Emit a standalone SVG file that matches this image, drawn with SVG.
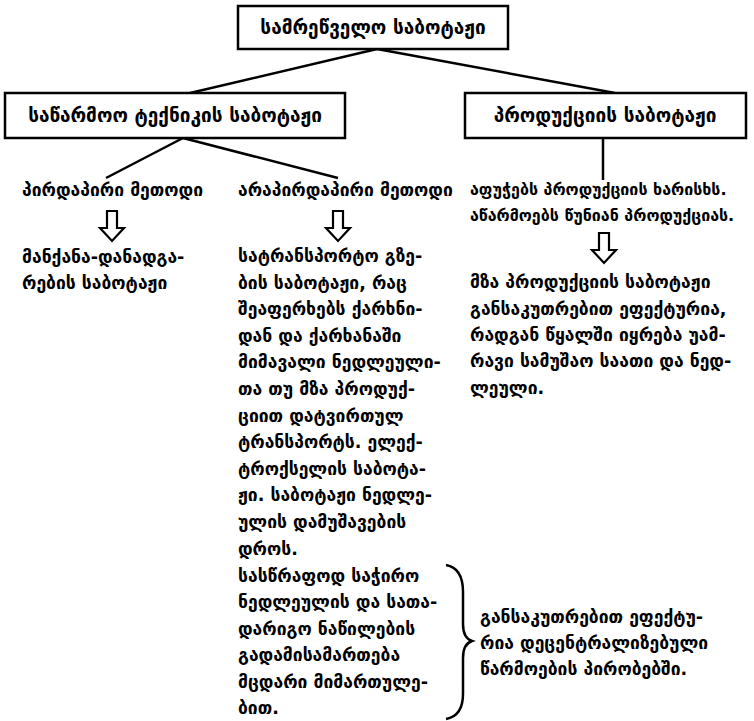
<svg xmlns="http://www.w3.org/2000/svg" width="754" height="721" viewBox="0 0 754 721">
<style>
.box{fill:#fff;stroke:#000;stroke-width:2.5}
.t{font-family:"DejaVu Sans","Noto Sans",sans-serif;font-weight:bold;font-size:17.5px;fill:#000}
.ts{font-family:"DejaVu Sans","Noto Sans",sans-serif;font-weight:bold;font-size:16px;fill:#000}
.bt{font-family:"DejaVu Sans","Noto Sans",sans-serif;font-weight:bold;font-size:19px;fill:#000}
.ln{stroke:#000;stroke-width:2.5;fill:none}
.ar{fill:#fff;stroke:#000;stroke-width:2.2;stroke-linejoin:miter}
</style>
<defs>
<path id="harrow" d="M-5,0 L5,0 L5,17 L12,17 L0,30 L-12,17 L-5,17 Z"/>
</defs>
<g id="connectors">
<line class="ln" x1="377" y1="49" x2="190" y2="93"/>
<line class="ln" x1="377" y1="49" x2="615" y2="93"/>
<line class="ln" x1="183" y1="138" x2="106" y2="178"/>
<line class="ln" x1="183" y1="138" x2="338" y2="178"/>
<line class="ln" x1="603" y1="138" x2="603" y2="180"/>
<use href="#harrow" class="ar" x="112" y="211"/>
<use href="#harrow" class="ar" x="338" y="211"/>
<use href="#harrow" class="ar" x="604" y="233"/>
<path class="ln" stroke-width="3.2" d="M446,565 Q463,568 463,592 L463,624 Q463,638 472,641 Q463,644 463,658 L463,694 Q463,716 446,719"/>
</g>
<g id="n-root">
<rect class="box" x="238" y="6" width="270" height="43"/>
<text class="bt" x="373" y="34" text-anchor="middle">სამრეწველო საბოტაჟი</text>
</g>
<g id="n-tech">
<rect class="box" x="5" y="93" width="340" height="45"/>
<text class="bt" x="175" y="122" text-anchor="middle">საწარმოო ტექნიკის საბოტაჟი</text>
</g>
<g id="n-prod">
<rect class="box" x="465" y="93" width="281" height="45"/>
<text class="bt" x="605" y="122" text-anchor="middle">პროდუქციის საბოტაჟი</text>
</g>
<g id="n-direct">
<text class="t" x="22" y="196">პირდაპირი მეთოდი</text>
<text class="t" x="22" y="263">მანქანა-დანადგა-</text>
<text class="t" x="22" y="289">რების საბოტაჟი</text>
</g>
<g id="n-indirect">
<text class="t" x="238" y="196">არაპირდაპირი მეთოდი</text>
<text class="t" x="238" y="262">სატრანსპორტო გზე-</text>
<text class="t" x="238" y="289">ბის საბოტაჟი, რაც</text>
<text class="t" x="238" y="315">შეაფერხებს ქარხნი-</text>
<text class="t" x="238" y="342">დან და ქარხანაში</text>
<text class="t" x="238" y="368">მიმავალი ნედლეული-</text>
<text class="t" x="238" y="395">თა თუ მზა პროდუქ-</text>
<text class="t" x="238" y="422">ციით დატვირთულ</text>
<text class="t" x="238" y="448">ტრანსპორტს. ელექ-</text>
<text class="t" x="238" y="475">ტროქსელის საბოტა-</text>
<text class="t" x="238" y="501">ჟი. საბოტაჟი ნედლე-</text>
<text class="t" x="238" y="528">ულის დამუშავების</text>
<text class="t" x="238" y="555">დროს.</text>
<text class="t" x="238" y="582">სასწრაფოდ საჭირო</text>
<text class="t" x="238" y="608">ნედლეულის და სათა-</text>
<text class="t" x="238" y="635">დარიგო ნაწილების</text>
<text class="t" x="238" y="661">გადამისამართება</text>
<text class="t" x="238" y="688">მცდარი მიმართულე-</text>
<text class="t" x="238" y="714">ბით.</text>
</g>
<g id="n-effect">
<text class="t" x="480" y="623">განსაკუთრებით ეფექტუ-</text>
<text class="t" x="480" y="649">რია დეცენტრალიზებული</text>
<text class="t" x="480" y="675">წარმოების პირობებში.</text>
</g>
<g id="n-quality">
<text class="ts" x="470" y="195">აფუჭებს პროდუქციის ხარისხს.</text>
<text class="ts" x="470" y="221">აწარმოებს წუნიან პროდუქციას.</text>
</g>
<g id="n-finished">
<text class="t" x="470" y="288">მზა პროდუქციის საბოტაჟი</text>
<text class="t" x="470" y="315">განსაკუთრებით ეფექტურია,</text>
<text class="t" x="470" y="341">რადგან წყალში იყრება უამ-</text>
<text class="t" x="470" y="367">რავი სამუშაო საათი და ნედ-</text>
<text class="t" x="470" y="394">ლეული.</text>
</g>
</svg>
